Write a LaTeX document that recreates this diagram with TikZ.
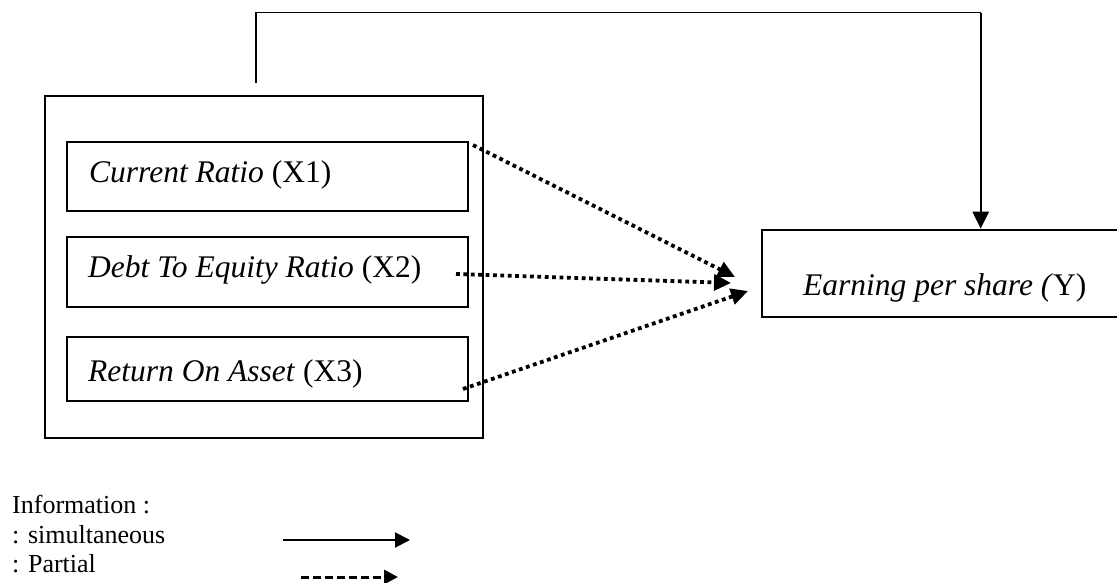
\documentclass[tikz,border=0pt]{standalone}
\usepackage{fontspec}
\setmainfont{Liberation Serif}
\usetikzlibrary{arrows.meta}
\begin{document}
\begin{tikzpicture}[x=1pt,y=-1pt,
  box/.style={draw=black,line width=2.6pt,inner sep=0pt},
  lbl/.style={anchor=base west,inner sep=0pt,font=\fontsize{31.5}{36}\selectfont},
  leg/.style={anchor=base west,inner sep=0pt,font=\fontsize{26}{30}\selectfont},
  dotarrow/.style={line width=3.8pt,dash pattern=on 3.8pt off 3.6pt,
    -{Triangle[length=17pt,width=16pt]}},
  solidarrow/.style={line width=2.4pt,-{Triangle[length=17pt,width=16pt]}}
]
\path[use as bounding box] (0,0) rectangle (1117,582);
\clip (0,0) rectangle (1117,582);

% boxes
\node[box,minimum width=438pt,minimum height=342pt] (outer) at (263.9,267) {};
\node[box,minimum width=401pt,minimum height=69pt] (x1) at (267.5,176.5) {};
\node[box,minimum width=401pt,minimum height=70pt] (x2) at (267.5,272) {};
\node[box,minimum width=401pt,minimum height=64pt] (x3) at (267.5,369) {};
\node[box,minimum width=368pt,minimum height=87pt] (y) at (946,273.5) {};

% texts
\node[lbl] (t1) at (89,182) {\textit{Current Ratio} (X1)};
\node[lbl] (t2) at (88,277) {\textit{Debt To Equity Ratio} (X2)};
\node[lbl] (t3) at (88,381.7) {\textit{Return On Asset} (X3)};
\node[lbl] (ty) at (803,295) {\textit{Earning per share (}Y)};

% simultaneous connector
\coordinate (s) at (256,83);
\coordinate (c) at (980.7,12.7);
\draw[line width=1.4pt] (s) |- (c);
\draw[solidarrow] (c) -- (c |- y.north);

% partial connectors
\coordinate (p1) at (473,145);
\coordinate (q1) at (735,277);
\coordinate (p2) at (456,274);
\coordinate (q2) at (731,283);
\coordinate (p3) at (463,389);
\coordinate (q3) at (748,291);
\draw[dotarrow] (p1) -- (q1);
\draw[dotarrow] (p2) -- (q2);
\draw[dotarrow] (p3) -- (q3);

% legend
\node[leg] (info) at (12,513) {Information :};
\node[leg] (simul) at (12,543) {: simultaneous};
\node[leg] (part) at (12,572) {: Partial};
\coordinate (l1a) at (283,540);
\coordinate (l1b) at (410,540);
\coordinate (l2a) at (301,577);
\coordinate (l2b) at (398,577);
\draw[line width=2pt,-{Triangle[length=15pt,width=15pt]}] (l1a) -- (l1b);
\draw[line width=3pt,dash pattern=on 8pt off 4pt,-{Triangle[length=14pt,width=14pt]}] (l2a) -- (l2b);
\end{tikzpicture}
\end{document}
